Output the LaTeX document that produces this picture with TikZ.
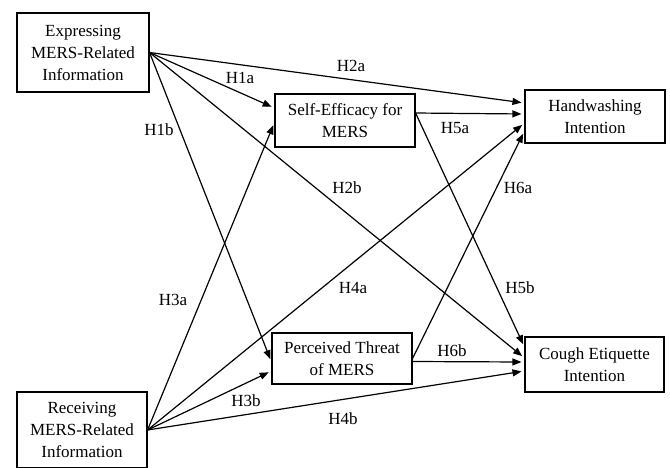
\documentclass[tikz,border=0pt]{standalone}
\usepackage{fontspec}
\setmainfont{Liberation Serif}
\usetikzlibrary{arrows.meta}
\begin{document}
\begin{tikzpicture}[x=1pt,y=-1pt,
  box/.style={draw,line width=1.1pt,align=center,inner sep=0pt,font=\fontsize{17}{22}\selectfont},
  path/.style={line width=1.2pt,-{Triangle[length=9pt,width=7pt]},shorten >=3pt},
  hyp/.style={font=\fontsize{17}{22}\selectfont,inner sep=0pt}]
\useasboundingbox (0,0) rectangle (670,467);
\node[box,minimum width=132pt,minimum height=79pt] (expr) at (83,52.5) {Expressing\\MERS-Related\\Information};
\node[box,minimum width=130pt,minimum height=76pt] (recv) at (82,430) {Receiving\\MERS-Related\\Information};
\node[box,minimum width=140pt,minimum height=53pt] (se) at (345,120.5) {Self-Efficacy for\\MERS};
\node[box,minimum width=140pt,minimum height=51pt] (pt) at (342,358.5) {Perceived Threat\\of MERS};
\node[box,minimum width=140pt,minimum height=53pt] (hw) at (595,116.5) {Handwashing\\Intention};
\node[box,minimum width=139pt,minimum height=55pt] (ce) at (594.5,364.5) {Cough Etiquette\\Intention};
\draw[path] (expr.east) -- ([yshift=12.5pt]se.west);
\draw[path] (expr.east) -- ([yshift=13.5pt]hw.west);
\draw[path] (expr.east) -- ([yshift=-3.5pt]pt.west);
\draw[path] (expr.east) -- ([yshift=6.5pt]ce.west);
\draw[path] (recv.east) -- ([yshift=-2pt]se.west);
\draw[path] (recv.east) -- ([yshift=-6.5pt]hw.west);
\draw[path] (recv.east) -- ([yshift=-12.5pt]pt.west);
\draw[path] (recv.east) -- ([yshift=-6.5pt]ce.west);
\draw[path] ([yshift=7.5pt]se.east) -- ([yshift=2.5pt]hw.west);
\draw[path] ([yshift=7.5pt]se.east) -- ([yshift=17.5pt]ce.west);
\draw[path] (pt.east) -- ([yshift=-14.5pt]hw.west);
\draw[path] ([yshift=-3pt]pt.east) -- ([yshift=2.5pt]ce.west);
\node[hyp] (h1a) at (240,78) {H1a};
\node[hyp] (h1b) at (159,130) {H1b};
\node[hyp] (h2a) at (351,66) {H2a};
\node[hyp] (h2b) at (347,188) {H2b};
\node[hyp] (h3a) at (173,300) {H3a};
\node[hyp] (h3b) at (246,401) {H3b};
\node[hyp] (h4a) at (353,288) {H4a};
\node[hyp] (h4b) at (343,419) {H4b};
\node[hyp] (h5a) at (455,128) {H5a};
\node[hyp] (h5b) at (520,288) {H5b};
\node[hyp] (h6a) at (518,188) {H6a};
\node[hyp] (h6b) at (452,351) {H6b};
\end{tikzpicture}
\end{document}
